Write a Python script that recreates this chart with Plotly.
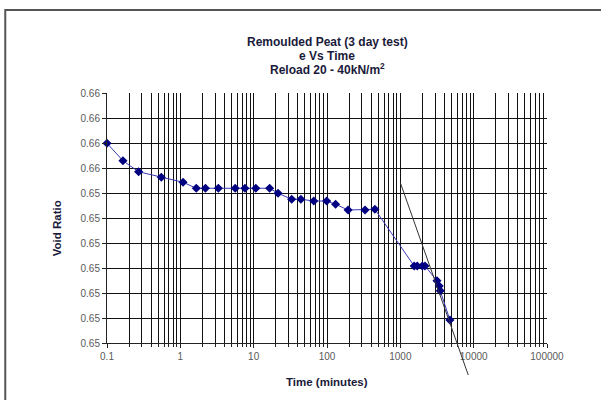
import math
import plotly.graph_objects as go

# Reload 20 - 40 kN/m2 stage: elapsed time (minutes) and void ratio
time_min = [0.1, 0.165, 0.27, 0.55, 1.09, 1.65, 2.2, 3.3, 5.6, 7.6, 10.7, 16.5,
            21.5, 33, 44, 66, 99, 131, 194, 330, 450,
            1545, 1700, 1990, 2170, 3160, 3390, 3500, 4745]
void_ratio = [0.65599, 0.65529, 0.65485, 0.65463, 0.65443, 0.65419, 0.65419,
              0.65419, 0.65419, 0.65419, 0.65419, 0.65419, 0.65399, 0.65375,
              0.65375, 0.65368, 0.65368, 0.65355, 0.65332, 0.65332, 0.65335,
              0.65108, 0.65108, 0.65108, 0.65108, 0.65049, 0.65028, 0.65009,
              0.64892]

# Y axis ticks and their (two-decimal) labels
y_ticks = [0.648, 0.649, 0.650, 0.651, 0.652, 0.653, 0.654, 0.655, 0.656, 0.657, 0.658]
y_labels = ["0.65"] * 7 + ["0.66"] * 4
x_ticks = [0.1, 1, 10, 100, 1000, 10000, 100000]
x_labels = ["0.1", "1", "10", "100", "1000", "10000", "100000"]

# Secondary-compression tangent drawn through the steep end of the curve
tangent_time = [1000, 8440]
tangent_e = [0.65441, 0.64672]

X_LOG_MIN, X_LOG_MAX = -1, 5
Y_MIN, Y_MAX = y_ticks[0], y_ticks[-1]


def to_paper_x(t):
    return (math.log10(t) - X_LOG_MIN) / (X_LOG_MAX - X_LOG_MIN)


def to_paper_y(e):
    return (e - Y_MIN) / (Y_MAX - Y_MIN)


fig = go.Figure()
fig.add_trace(go.Scatter(
    x=time_min, y=void_ratio, mode="lines+markers",
    line=dict(color="#3a3ab8", width=1),
    marker=dict(symbol="diamond", size=7, color="#000080"),
    cliponaxis=False, showlegend=False, hoverinfo="x+y",
))

fig.add_shape(type="line", xref="paper", yref="paper",
              x0=to_paper_x(tangent_time[0]), y0=to_paper_y(tangent_e[0]),
              x1=to_paper_x(tangent_time[1]), y1=to_paper_y(tangent_e[1]),
              line=dict(color="#333333", width=1))

# chart-area frame
fig.add_shape(type="rect", xref="paper", yref="paper",
              x0=-0.2312, y0=-0.308, x1=1.167, y1=1.332,
              line=dict(color="#555555", width=2), layer="below")

title_font = dict(family="Liberation Sans, Arial, sans-serif", size=12, color="#1a1a3a")
fig.add_annotation(xref="paper", yref="paper", x=0.5, y=1.204, yanchor="middle",
                   text="<b>Remoulded Peat (3 day test)</b>", showarrow=False, font=title_font)
fig.add_annotation(xref="paper", yref="paper", x=0.5, y=1.150, yanchor="middle",
                   text="<b>e Vs Time</b>", showarrow=False, font=title_font)
fig.add_annotation(xref="paper", yref="paper", x=0.5, y=1.096, yanchor="middle",
                   text="<b>Reload 20 - 40kN/m<sup>2</sup></b>", showarrow=False, font=title_font)
axis_font = dict(family="Liberation Sans, Arial, sans-serif", size=11.5, color="#1a1a3a")
fig.add_annotation(xref="paper", yref="paper", x=0.5, y=-0.156, yanchor="middle",
                   text="<b>Time (minutes)</b>", showarrow=False, font=axis_font)
fig.add_annotation(xref="paper", yref="paper", x=-0.113, y=0.46, xanchor="center",
                   yanchor="middle", textangle=-90,
                   text="<b>Void Ratio</b>", showarrow=False, font=axis_font)

tick_font = dict(family="Liberation Sans, Arial, sans-serif", size=10, color="#5a5a5a")
fig.update_xaxes(
    type="log", range=[X_LOG_MIN, X_LOG_MAX],
    tickvals=x_ticks, ticktext=x_labels, tickfont=tick_font,
    showgrid=True, gridcolor="#111111", gridwidth=1,
    showline=True, linecolor="#222222", linewidth=1, mirror=False,
    ticks="outside", ticklen=4, tickcolor="#222222",
    minor=dict(dtick="D1", showgrid=True, gridcolor="#111111", gridwidth=1,
               ticks="outside", ticklen=3, tickcolor="#222222"),
    zeroline=False, fixedrange=True,
)
fig.update_yaxes(
    range=[Y_MIN, Y_MAX], tickvals=y_ticks, ticktext=y_labels, tickfont=tick_font,
    showgrid=True, gridcolor="#111111", gridwidth=1,
    showline=True, linecolor="#222222", linewidth=1,
    ticks="outside", ticklen=4, tickcolor="#222222",
    zeroline=False, fixedrange=True,
)

fig.update_layout(
    width=601, height=400,
    margin=dict(l=107, r=54, t=93, b=57),
    paper_bgcolor="white", plot_bgcolor="white",
    showlegend=False,
)

fig.write_html("out.html")
